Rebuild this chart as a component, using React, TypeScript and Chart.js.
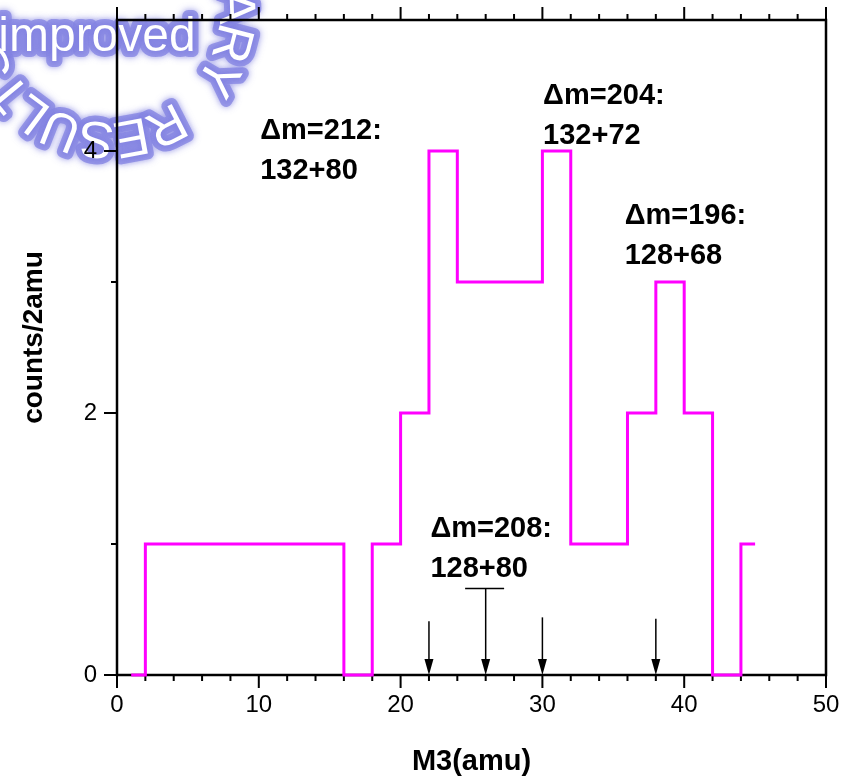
import React, { useEffect, useRef } from 'react';
import { Chart, registerables } from 'chart.js';

Chart.register(...registerables);

// Histogram of M3 in 2 amu bins (bin centres, counts per bin)
const massCenters = [1, 3, 5, 7, 9, 11, 13, 15, 17, 19, 21, 23, 25, 27, 29, 31, 33, 35, 37, 39, 41, 43, 45];
const counts = [0, 1, 1, 1, 1, 1, 1, 1, 0, 1, 2, 4, 3, 3, 3, 4, 1, 1, 2, 3, 2, 0, 1];

// Axis ticks
const xTickValues = [0, 10, 20, 30, 40, 50];
const yTickValues = [0, 2, 4];
const xMinorStep = 2;
const yMinorStep = 1;

// Expected-mass arrows (position in amu, top of the shaft in counts)
const arrowMasses = [22, 26, 30, 38];
const arrowTops = [0.41, 0.66, 0.44, 0.43];
// Short bar above the 26 amu arrow
const barFrom = 24.55;
const barTo = 27.3;
const barLevel = 0.66;

// Decay-channel annotations: first line, second line, x (amu), baseline y (counts)
const labelFirst = ['\u0394m=212:', '\u0394m=204:', '\u0394m=196:', '\u0394m=208:'];
const labelSecond = ['132+80', '132+72', '128+68', '128+80'];
const labelX = [10.1, 30.05, 35.8, 22.1];
const labelY = [4.09, 4.36, 3.44, 1.055];

const xTitle = 'M3(amu)';
const yTitle = 'counts/2amu';

// Seal text
const sealRingFirst = 'PRELIMINARY';
const sealRingSecond = 'RESULTS';
const sealMiddle = 'improved';

const FONT = '"Liberation Sans", Arial, Helvetica, sans-serif';
const W = 842;
const H = 778;

type Glyph = { ch: string; x: number; y: number; rot: number; font: string; align: CanvasTextAlign; base: CanvasTextBaseline };

function sealGlyphs(ctx: CanvasRenderingContext2D): Glyph[] {
  const cx = 108;
  const cy = 11;
  const rc = 126;
  const font = `52px ${FONT}`;
  ctx.font = font;
  const gap = 0;
  const wOf = (c: string) => ctx.measureText(c).width + gap;
  const out: Glyph[] = [];
  const place = (ch: string, a: number) => {
    out.push({ ch, x: cx + rc * Math.cos(a), y: cy + rc * Math.sin(a), rot: a + Math.PI / 2, font, align: 'center', base: 'middle' });
  };
  // first word runs clockwise and ends on the right side
  let a = (31 * Math.PI) / 180;
  for (let i = sealRingFirst.length - 1; i >= 0; i--) {
    place(sealRingFirst[i], a);
    if (i > 0) a -= (wOf(sealRingFirst[i]) + wOf(sealRingFirst[i - 1])) / 2 / rc;
  }
  // second word continues clockwise along the bottom
  a = (63 * Math.PI) / 180;
  for (let i = 0; i < sealRingSecond.length; i++) {
    place(sealRingSecond[i], a);
    if (i < sealRingSecond.length - 1) a += (wOf(sealRingSecond[i]) + wOf(sealRingSecond[i + 1])) / 2 / rc;
  }
  out.push({ ch: sealMiddle, x: 97, y: 51, rot: 0, font: `48px ${FONT}`, align: 'center', base: 'alphabetic' });
  return out;
}

function drawSeal(target: CanvasRenderingContext2D) {
  const off = document.createElement('canvas');
  off.width = W;
  off.height = H;
  const o = off.getContext('2d');
  if (!o) return;
  const glyphs = sealGlyphs(o);
  const each = (fn: (g: Glyph) => void) => {
    for (const g of glyphs) {
      o.save();
      o.translate(g.x, g.y);
      o.rotate(g.rot);
      o.font = g.font;
      o.textAlign = g.align;
      o.textBaseline = g.base;
      fn(g);
      o.restore();
    }
  };
  // soft lavender halo
  o.lineJoin = 'round';
  each((g) => {
    o.shadowColor = 'rgba(118,118,222,0.9)';
    o.shadowBlur = 7;
    o.strokeStyle = 'rgba(136,136,228,0.8)';
    o.fillStyle = 'rgba(136,136,228,0.8)';
    o.lineWidth = 12;
    o.strokeText(g.ch, 0, 0);
    o.fillText(g.ch, 0, 0);
  });
  // letters stay open (white)
  o.globalCompositeOperation = 'destination-out';
  each((g) => {
    o.fillStyle = '#000';
    o.fillText(g.ch, 0, 0);
  });
  target.save();
  target.globalCompositeOperation = 'multiply';
  target.drawImage(off, 0, 0);
  target.restore();
}

const framePlugin = {
  id: 'frameTicks',
  beforeDatasetsDraw(chart: any) {
    const ctx: CanvasRenderingContext2D = chart.ctx;
    const { left, right, top, bottom } = chart.chartArea;
    const xs = chart.scales.x;
    const ys = chart.scales.y;
    ctx.save();
    ctx.strokeStyle = '#000';
    ctx.lineWidth = 2.5;
    ctx.lineCap = 'butt';
    ctx.strokeRect(left, top, right - left, bottom - top);
    ctx.lineWidth = 2;
    ctx.beginPath();
    for (let v = xs.min; v <= xs.max + 1e-9; v += xMinorStep) {
      const px = xs.getPixelForValue(v);
      const len = xTickValues.includes(v) ? 13 : 6;
      ctx.moveTo(px, bottom);
      ctx.lineTo(px, bottom + len);
      ctx.moveTo(px, top);
      ctx.lineTo(px, top - len);
    }
    for (let v = ys.min; v < ys.max - 1e-9; v += yMinorStep) {
      const py = ys.getPixelForValue(v);
      const len = yTickValues.includes(v) ? 13 : 6;
      ctx.moveTo(left, py);
      ctx.lineTo(left - len, py);
    }
    ctx.stroke();
    ctx.restore();
  },
};

const overlayPlugin = {
  id: 'overlay',
  afterDatasetsDraw(chart: any) {
    const ctx: CanvasRenderingContext2D = chart.ctx;
    const xs = chart.scales.x;
    const ys = chart.scales.y;
    const { left, right, top, bottom } = chart.chartArea;
    ctx.save();
    // arrows
    ctx.strokeStyle = '#000';
    ctx.fillStyle = '#000';
    ctx.lineWidth = 1.5;
    arrowMasses.forEach((m, i) => {
      const px = xs.getPixelForValue(m);
      const py0 = ys.getPixelForValue(0);
      const pyTop = ys.getPixelForValue(arrowTops[i]);
      const head = 16;
      ctx.beginPath();
      ctx.moveTo(px, pyTop);
      ctx.lineTo(px, py0 - head + 2);
      ctx.stroke();
      ctx.beginPath();
      ctx.moveTo(px, py0);
      ctx.lineTo(px - 4.5, py0 - head);
      ctx.lineTo(px + 4.5, py0 - head);
      ctx.closePath();
      ctx.fill();
    });
    ctx.beginPath();
    ctx.moveTo(xs.getPixelForValue(barFrom), ys.getPixelForValue(barLevel));
    ctx.lineTo(xs.getPixelForValue(barTo), ys.getPixelForValue(barLevel));
    ctx.stroke();

    // annotations
    ctx.font = `bold 29px ${FONT}`;
    ctx.textAlign = 'left';
    ctx.textBaseline = 'alphabetic';
    labelFirst.forEach((t, i) => {
      const px = xs.getPixelForValue(labelX[i]);
      const py = ys.getPixelForValue(labelY[i]);
      ctx.fillText(t, px, py);
      ctx.fillText(labelSecond[i], px, py + 40);
    });

    // axis titles
    ctx.font = `bold 29px ${FONT}`;
    ctx.textAlign = 'center';
    ctx.fillText(xTitle, (left + right) / 2, 770);
    ctx.save();
    ctx.font = `bold 28px ${FONT}`;
    ctx.translate(42, (top + bottom) / 2 - 10);
    ctx.rotate(-Math.PI / 2);
    ctx.fillText(yTitle, 0, 0);
    ctx.restore();
    ctx.restore();
  },
  afterDraw(chart: any) {
    drawSeal(chart.ctx);
  },
};

const noScalePadding = (s: any) => {
  s.paddingLeft = 0;
  s.paddingRight = 0;
  s.paddingTop = 0;
  s.paddingBottom = 0;
};

export default function App() {
  const ref = useRef<HTMLCanvasElement | null>(null);
  useEffect(() => {
    const canvas = ref.current;
    if (!canvas) return;
    const chart = new Chart(canvas, {
      type: 'line',
      data: {
        datasets: [
          {
            data: massCenters.map((m, i) => ({ x: m, y: counts[i] })),
            borderColor: '#ff00ff',
            borderWidth: 3,
            stepped: 'middle',
            pointRadius: 0,
            fill: false,
            clip: false as any,
          },
        ],
      },
      options: {
        animation: false,
        responsive: false,
        maintainAspectRatio: false,
        devicePixelRatio: 1,
        layout: { padding: { top: 20, right: 16, left: 0, bottom: 0 } },
        plugins: { legend: { display: false }, tooltip: { enabled: false } },
        scales: {
          x: {
            type: 'linear',
            min: 0,
            max: 50,
            afterFit: (s: any) => {
              s.height = 103;
              noScalePadding(s);
            },
            afterBuildTicks: (s: any) => {
              s.ticks = xTickValues.map((v) => ({ value: v }));
            },
            grid: { display: false, drawTicks: false },
            border: { display: false },
            ticks: { color: '#000', font: { family: FONT, size: 24 }, padding: 16, maxRotation: 0, autoSkip: false },
          },
          y: {
            type: 'linear',
            min: 0,
            max: 5,
            afterFit: (s: any) => {
              s.width = 117;
              noScalePadding(s);
            },
            afterBuildTicks: (s: any) => {
              s.ticks = yTickValues.map((v) => ({ value: v }));
            },
            grid: { display: false, drawTicks: false },
            border: { display: false },
            ticks: { color: '#000', font: { family: FONT, size: 24 }, padding: 20, autoSkip: false },
          },
        },
      } as any,
      plugins: [framePlugin, overlayPlugin],
    });
    return () => chart.destroy();
  }, []);
  return (
    <div style={{ position: 'fixed', left: 0, top: 0, width: W, height: H, background: '#fff' }}>
      <canvas ref={ref} width={W} height={H} style={{ width: W, height: H, display: 'block' }} />
    </div>
  );
}
